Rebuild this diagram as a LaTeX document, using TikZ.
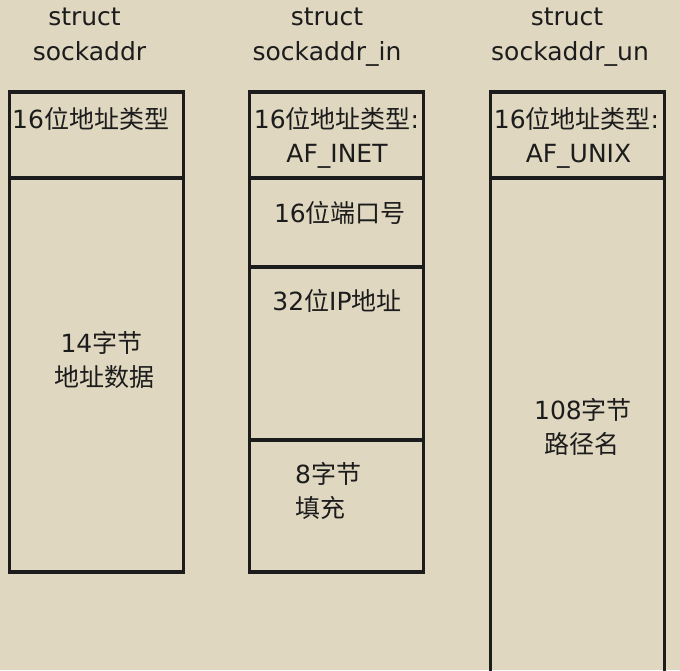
\documentclass[tikz,border=0pt]{standalone}
\usepackage{fontspec}
\setmainfont{DejaVu Sans}
\newfontfamily\cjk{Noto Sans CJK SC}
\definecolor{bg}{RGB}{223,215,192}
\definecolor{ink}{RGB}{28,28,28}
\tikzset{
  lbl/.style={inner sep=0pt, anchor=base, font=\fontsize{25}{34}\selectfont, text=ink},
  lblw/.style={lbl, anchor=base west},
  boxline/.style={line width=3.4pt, draw=ink},
}
\begin{document}
\begin{tikzpicture}[x=1pt,y=-1pt]
\fill[bg] (0,0) rectangle (680,670);
\useasboundingbox (0,0) rectangle (680,670);
% titles
\node[lbl] (t1a) at (84.5,25) {struct};
\node[lbl] (t1b) at (89.5,60) {sockaddr};
\node[lbl] (t2a) at (327,25) {struct};
\node[lbl] (t2b) at (327,60) {sockaddr\_in};
\node[lbl] (t3a) at (567,25) {struct};
\node[lbl] (t3b) at (570,60) {sockaddr\_un};
% box 1
\draw[boxline] (9.5,92) rectangle (183.5,572);
\draw[boxline] (9.5,178) -- (183.5,178);
\node[lblw] (h1) at (12,128) {16{\cjk 位地址类型}};
\node[lbl] (d1a) at (101.5,352) {14{\cjk 字节}};
\node[lbl] (d1b) at (104,386) {{\cjk 地址数据}};
% box 2
\draw[boxline] (249.5,92) rectangle (423.5,572);
\draw[boxline] (249.5,178) -- (423.5,178);
\draw[boxline] (249.5,267) -- (423.5,267);
\draw[boxline] (249.5,440) -- (423.5,440);
\node[lbl] (h2a) at (336.5,128) {16{\cjk 位地址类型}:};
\node[lbl] (h2b) at (337,162) {AF\_INET};
\node[lbl] (port) at (340,222) {16{\cjk 位端口号}};
\node[lbl] (ip) at (337,310) {32{\cjk 位}IP{\cjk 地址}};
\node[lblw] (pad1) at (295,483) {8{\cjk 字节}};
\node[lblw] (pad2) at (295,517) {{\cjk 填充}};
% box 3
\draw[boxline] (490.5,690) -- (490.5,92) -- (664.5,92) -- (664.5,690);
\draw[boxline] (490.5,178) -- (664.5,178);
\node[lbl] (h3a) at (576.5,128) {16{\cjk 位地址类型}:};
\node[lbl] (h3b) at (578.5,162) {AF\_UNIX};
\node[lbl] (path1) at (583,419) {108{\cjk 字节}};
\node[lbl] (path2) at (582,453) {{\cjk 路径名}};
\end{tikzpicture}
\end{document}
